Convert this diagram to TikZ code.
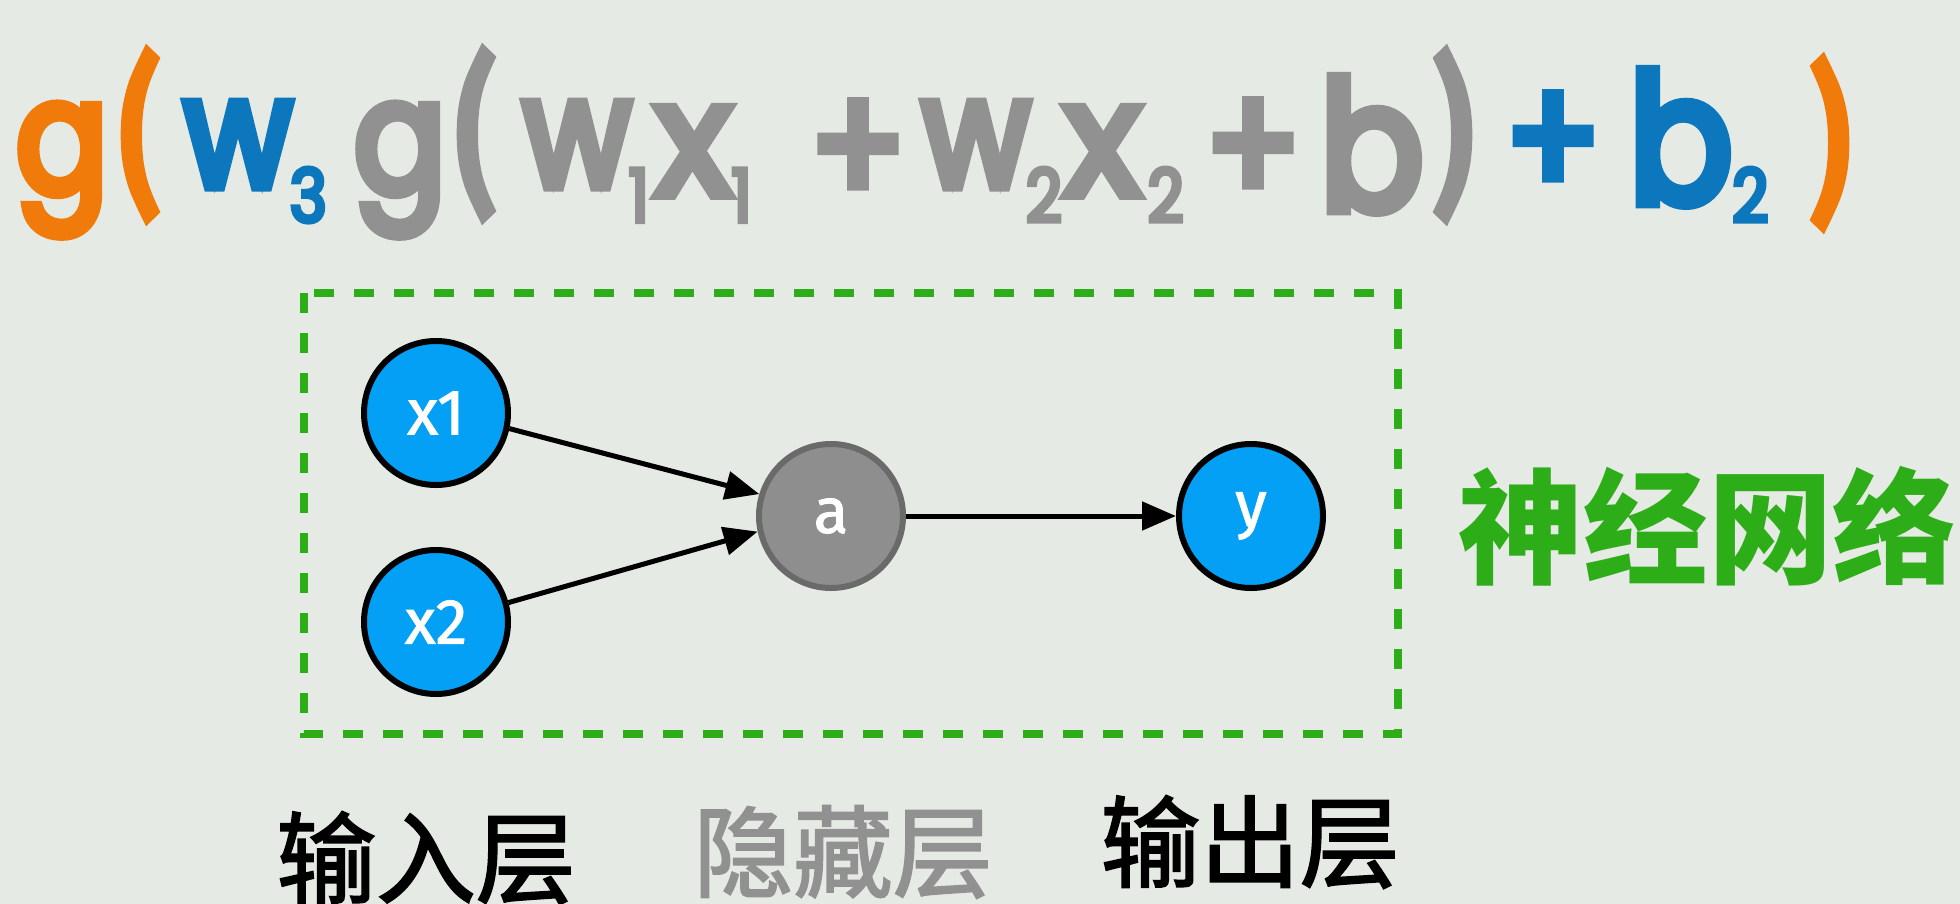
\documentclass[tikz,border=0pt]{standalone}
\usepackage{fontspec}
\setmainfont{Fira Sans}
\newfontfamily\fml{Poppins}[FakeStretch=0.85, FakeBold=6]
\newfontfamily\fmx{Poppins}[FakeBold=6]
\newfontfamily\parf{Fira Sans}[FakeStretch=0.7, FakeBold=6]
\newfontfamily\nodef{Fira Sans}[FakeBold=1.5]
\newfontfamily\cjk{Noto Sans CJK SC}
\newfontfamily\cjkm{Noto Sans CJK SC}[FakeBold=2]
\usetikzlibrary{arrows.meta}
\definecolor{bgc}{HTML}{E6EAE4}
\definecolor{forange}{HTML}{F07A0A}
\definecolor{fblue}{HTML}{0D77BE}
\definecolor{fgrey}{HTML}{919191}
\definecolor{fgreen}{HTML}{2DAD17}
\definecolor{nblue}{HTML}{03A0F5}
\definecolor{agrey}{HTML}{8E8E8E}
\definecolor{aborder}{HTML}{6A6A6A}
\newcommand\sbs[3]{\kern#1\raisebox{-#2}{\fontsize{74}{74}\fml\selectfont #3}}
\begin{document}
\begin{tikzpicture}[x=1bp,y=-1bp,
  fx/.style={inner sep=0pt, anchor=base, font=\fontsize{160}{160}\selectfont\fml},
  fterm/.style={inner sep=0pt, anchor=base west, font=\fontsize{155}{155}\selectfont\fml},
  fxterm/.style={inner sep=0pt, anchor=base west, font=\fontsize{160}{160}\selectfont\fmx},
  fbt/.style={inner sep=0pt, anchor=base west, font=\fontsize{180}{180}\selectfont\fml},
  fpar/.style={inner sep=0pt, anchor=center, font=\fontsize{168}{168}\selectfont\parf},
  fplus/.style={inner sep=0pt, anchor=center, font=\fontsize{165}{165}\selectfont\fml},
  neuron/.style={circle, minimum size=144bp, inner sep=0pt, line width=6bp, draw=black, fill=nblue, text=white, font=\fontsize{64}{64}\selectfont\nodef},
  hidden/.style={neuron, fill=agrey, draw=aborder},
  conn/.style={line width=5bp, -{Triangle[length=34bp,width=28bp]}},
  layerlbl/.style={inner sep=0pt, anchor=center, font=\fontsize{100}{100}\selectfont\cjkm},
  netbox/.style={draw=fgreen, line width=8bp, dash pattern=on 20bp off 20bp}
]
\fill[bgc] (0,0) rectangle (1960,904);
\useasboundingbox (0,0) rectangle (1960,904);

% formula
\node[fx, text=forange] (g1) at (62,193) {g};
\node[fpar, text=forange] (p1) at (140,135) {(};
\node[fterm, text=fblue] (w3) at (184,187) {w\sbs{-2bp}{35bp}{3}};
\node[fx, text=fgrey] (g2) at (400,193) {g};
\node[fpar, text=fgrey] (p2) at (476,134) {(};
\node[fterm, text=fgrey] (w1) at (523,187) {w\sbs{-2bp}{35bp}{1}};
\node[fxterm, text=fgrey] (x1t) at (655,195) {x\sbs{0bp}{27bp}{1}};
\node[fplus, text=fgrey] (pl1) at (858,153) {+};
\node[fterm, text=fgrey] (w2) at (922,187) {w\sbs{-4bp}{35bp}{2}};
\node[fxterm, text=fgrey] (x2t) at (1064,195) {x\sbs{7bp}{27bp}{2}};
\node[fplus, text=fgrey] (pl2) at (1253,152) {+};
\node[fbt, text=fgrey] (b1) at (1320,210) {b};
\node[fpar, text=fgrey] (p3) at (1453,135) {)};
\node[fplus, text=fblue] (pl3) at (1553,145) {+};
\node[fbt, text=fblue] (b2) at (1629,203) {b\sbs{0bp}{19bp}{2}};
\node[fpar, text=forange] (p4) at (1830,143) {)};

% network
\draw[netbox] (304,293) rectangle (1398,734);
\node[neuron] (x1) at (436,413) {x1};
\node[neuron] (x2) at (436,622) {x2};
\node[hidden] (a) at (831,516) {a};
\node[neuron] (y) at (1251,516) {y};
\draw[conn] (x1.-12) -- (a.163);
\draw[conn] (x2.15) -- (a.192);
\draw[conn] (a.east) -- (y.west);

% labels
\node[inner sep=0pt, anchor=center, text=fgreen, font=\fontsize{125}{125}\selectfont\cjk\bfseries] (nn) at (1708,526) {神经网络};
\node[layerlbl, text=black] (inl) at (426,858) {输入层};
\node[layerlbl, text=fgrey] (hidl) at (843,852) {隐藏层};
\node[layerlbl, text=black] (outl) at (1250,842) {输出层};
\end{tikzpicture}
\end{document}
